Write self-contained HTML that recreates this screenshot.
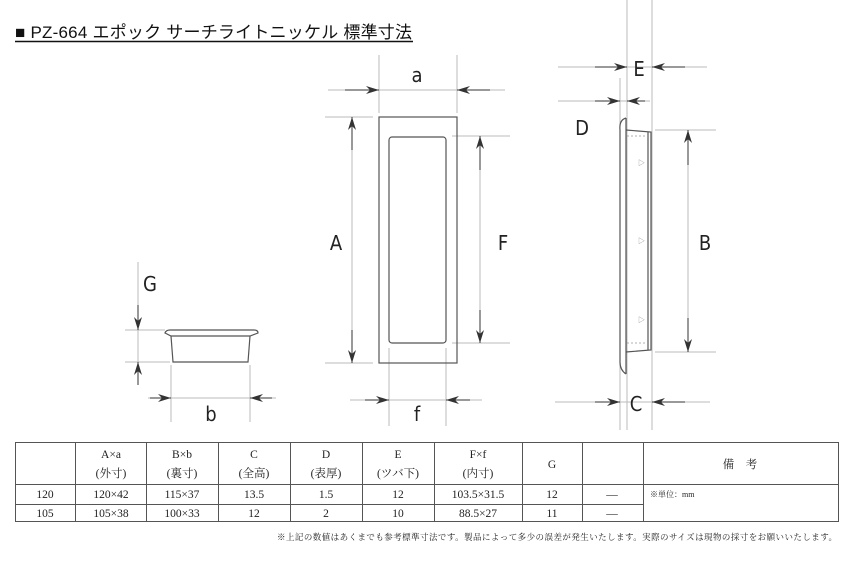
<!DOCTYPE html>
<html><head><meta charset="utf-8"><style>
body{margin:0;background:#fff;width:850px;height:567px;overflow:hidden;position:relative;font-family:"Liberation Sans","Noto Sans CJK JP",sans-serif}
svg{position:absolute;left:0;top:0}
</style></head><body>
<svg width="850" height="567" viewBox="0 0 850 567" xmlns="http://www.w3.org/2000/svg">
<defs>
<marker id="ar" markerWidth="14" markerHeight="8" refX="13" refY="4" orient="auto" markerUnits="userSpaceOnUse"><path d="M0,0 L13,4 L0,8 L4,4 Z" fill="#333"/></marker>
</defs>
<text x="15" y="38" font-size="17" fill="#111" font-family="Liberation Sans,Noto Sans CJK JP,sans-serif" textLength="397">■ PZ-664 エポック サーチライトニッケル 標準寸法</text>
<line x1="15" y1="41.5" x2="413" y2="41.5" stroke="#111" stroke-width="1.5"/>
<g stroke="#bbb" stroke-width="1" fill="none">
<line x1="379" y1="55" x2="379" y2="113"/><line x1="457" y1="55" x2="457" y2="113"/>
<line x1="328" y1="90" x2="505" y2="90"/>
<line x1="325" y1="117" x2="373" y2="117"/><line x1="325" y1="363" x2="373" y2="363"/>
<line x1="452" y1="136" x2="510" y2="136"/><line x1="452" y1="343" x2="510" y2="343"/>
<line x1="389" y1="348" x2="389" y2="426"/><line x1="446" y1="348" x2="446" y2="426"/>
<line x1="350" y1="400" x2="482" y2="400"/>
<line x1="352" y1="117" x2="352" y2="363"/><line x1="480" y1="136" x2="480" y2="343"/>
<line x1="627" y1="0" x2="627" y2="430"/><line x1="652" y1="0" x2="652" y2="430"/>
<line x1="620" y1="78" x2="620" y2="430"/>
<line x1="558" y1="67" x2="707" y2="67"/><line x1="558" y1="101" x2="650" y2="101"/>
<line x1="655" y1="130" x2="716" y2="130"/><line x1="655" y1="352" x2="716" y2="352"/>
<line x1="688" y1="130" x2="688" y2="352"/>
<line x1="555" y1="402" x2="710" y2="402"/>
<line x1="138" y1="262" x2="138" y2="380"/>
<line x1="125" y1="330" x2="165" y2="330"/><line x1="125" y1="362" x2="170" y2="362"/>
<line x1="171" y1="365" x2="171" y2="422"/><line x1="250" y1="365" x2="250" y2="422"/>
<line x1="148" y1="398" x2="276" y2="398"/>
</g>
<g stroke="#333" stroke-width="1" fill="none">
<line x1="345" y1="90" x2="379" y2="90" marker-end="url(#ar)"/><line x1="490" y1="90" x2="457" y2="90" marker-end="url(#ar)"/>
<line x1="352" y1="150" x2="352" y2="117" marker-end="url(#ar)"/><line x1="352" y1="330" x2="352" y2="363" marker-end="url(#ar)"/>
<line x1="480" y1="170" x2="480" y2="136" marker-end="url(#ar)"/><line x1="480" y1="310" x2="480" y2="343" marker-end="url(#ar)"/>
<line x1="365" y1="400" x2="389" y2="400" marker-end="url(#ar)"/><line x1="470" y1="400" x2="446" y2="400" marker-end="url(#ar)"/>
<line x1="595" y1="67" x2="627" y2="67" marker-end="url(#ar)"/><line x1="685" y1="67" x2="652" y2="67" marker-end="url(#ar)"/>
<line x1="595" y1="101" x2="620" y2="101" marker-end="url(#ar)"/><line x1="645" y1="101" x2="627" y2="101" marker-end="url(#ar)"/>
<line x1="688" y1="165" x2="688" y2="130" marker-end="url(#ar)"/><line x1="688" y1="318" x2="688" y2="352" marker-end="url(#ar)"/>
<line x1="595" y1="402" x2="620" y2="402" marker-end="url(#ar)"/><line x1="685" y1="402" x2="652" y2="402" marker-end="url(#ar)"/>
<line x1="138" y1="305" x2="138" y2="330" marker-end="url(#ar)"/><line x1="138" y1="385" x2="138" y2="362" marker-end="url(#ar)"/>
<line x1="150" y1="398" x2="171" y2="398" marker-end="url(#ar)"/><line x1="272" y1="398" x2="250" y2="398" marker-end="url(#ar)"/>
</g>
<g stroke="#555" fill="none" stroke-width="1.2">
<rect x="379" y="117" width="78" height="246"/>
<rect x="389" y="137" width="57" height="206" rx="3"/>
<path d="M626,118 Q619,120 620,130 L620,362 Q620,370 626,374"/>
<line x1="626" y1="118" x2="626" y2="374"/>
<path d="M626,130 L651,132 L651,350 L626,352"/>
<line x1="648" y1="132" x2="648" y2="350"/>
<path d="M165,333 Q166,330 170,330 L254,330 Q258,330 258,333 L250,336 L171,336 Z"/>
<path d="M171,336 L173,362 L248,362 L250,336"/>
</g>
<g stroke="#999" stroke-dasharray="2,2" stroke-width="0.8"><line x1="627" y1="136" x2="648" y2="136"/><line x1="627" y1="343" x2="648" y2="343"/></g>
<g font-size="7" fill="#888"><text x="638" y="165">▷</text><text x="638" y="243">▷</text><text x="638" y="322">▷</text></g>
<g font-family="DejaVu Sans Condensed,DejaVu Sans,sans-serif" font-size="20" fill="#222" text-anchor="middle">
<text x="417" y="82">a</text><text x="336" y="250">A</text><text x="503" y="250">F</text><text x="417" y="421">f</text>
<text x="639" y="76">E</text><text x="582" y="135">D</text><text x="705" y="250">B</text><text x="636" y="411">C</text>
<text x="150" y="291">G</text><text x="211" y="421">b</text>
</g>
<g stroke="#555" stroke-width="1" fill="none">
<rect x="15.5" y="442.5" width="823" height="79"/>
<line x1="15" y1="484.5" x2="838" y2="484.5"/>
<line x1="15" y1="504.5" x2="643" y2="504.5"/>
<line x1="75.5" y1="442" x2="75.5" y2="522"/><line x1="146.5" y1="442" x2="146.5" y2="522"/>
<line x1="218.5" y1="442" x2="218.5" y2="522"/><line x1="290.5" y1="442" x2="290.5" y2="522"/>
<line x1="362.5" y1="442" x2="362.5" y2="522"/><line x1="434.5" y1="442" x2="434.5" y2="522"/>
<line x1="522.5" y1="442" x2="522.5" y2="522"/><line x1="582.5" y1="442" x2="582.5" y2="522"/>
<line x1="643.5" y1="442" x2="643.5" y2="522"/>
</g>
<g font-family="Liberation Serif,Noto Serif CJK SC,serif" font-size="11.5" fill="#222" text-anchor="middle">
<text x="111" y="458">A×a</text><text x="111" y="477">(外寸)</text>
<text x="182" y="458">B×b</text><text x="182" y="477">(裏寸)</text>
<text x="254" y="458">C</text><text x="254" y="477">(全高)</text>
<text x="326" y="458">D</text><text x="326" y="477">(表厚)</text>
<text x="398" y="458">E</text><text x="398" y="477">(ツバ下)</text>
<text x="478" y="458">F×f</text><text x="478" y="477">(内寸)</text>
<text x="552" y="468">G</text><text x="740" y="468">備　考</text>
<text x="45" y="498">120</text><text x="111" y="498">120×42</text><text x="182" y="498">115×37</text><text x="254" y="498">13.5</text><text x="326" y="498">1.5</text><text x="398" y="498">12</text><text x="478" y="498">103.5×31.5</text><text x="552" y="498">12</text><text x="612" y="498">—</text>
<text x="45" y="517">105</text><text x="111" y="517">105×38</text><text x="182" y="517">100×33</text><text x="254" y="517">12</text><text x="326" y="517">2</text><text x="398" y="517">10</text><text x="478" y="517">88.5×27</text><text x="552" y="517">11</text><text x="612" y="517">—</text>
</g>
<text x="650" y="497" font-family="Liberation Serif,Noto Serif CJK SC,serif" font-size="8" fill="#222">※単位：mm</text>
<text x="837" y="540" text-anchor="end" font-family="Liberation Serif,Noto Serif CJK SC,serif" font-size="8.5" fill="#222" textLength="560">※上記の数値はあくまでも参考標準寸法です。製品によって多少の誤差が発生いたします。実際のサイズは現物の採寸をお願いいたします。</text>
</svg>
</body></html>
